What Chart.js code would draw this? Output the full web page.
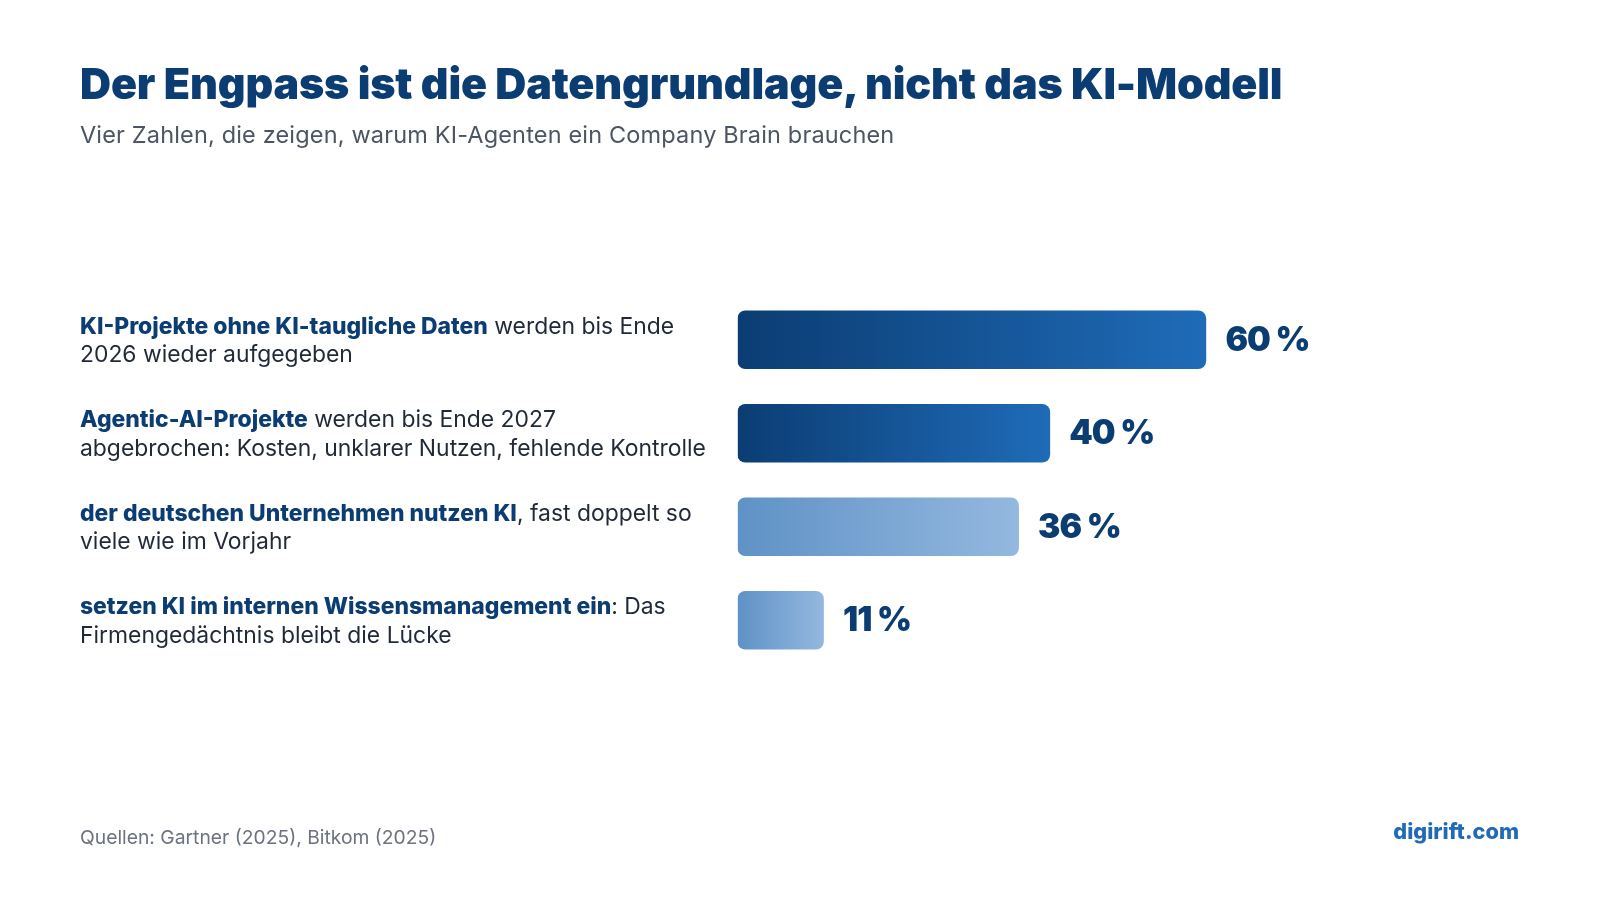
<!DOCTYPE html>
<html lang="de">
<head>
<meta charset="utf-8">
<title>Der Engpass ist die Datengrundlage</title>
<script src="https://cdn.jsdelivr.net/npm/chart.js@4"></script>
<style>
  html, body { margin: 0; background: #fff; }
  body { width: 1600px; height: 900px; position: relative; overflow: hidden; font-family: Inter, sans-serif; }
  canvas { position: absolute; left: 0; top: 0; }
  .txt { position: absolute; white-space: nowrap; line-height: 1; }
  #title { left: 80px; top: 62px; font-size: 43px; font-weight: 900; color: #0b3d73; letter-spacing: -0.15px; }
  #subtitle { left: 80px; top: 123px; font-size: 23.5px; color: #4b5563; letter-spacing: 0.16px; }
  #source { left: 80px; top: 828px; font-size: 19.3px; color: #6b7280; }
  #brand { right: 81px; top: 821px; font-size: 21.7px; font-weight: 800; color: #1f6bb8; }
</style>
</head>
<body>
<canvas id="barChart" width="1600" height="900"></canvas>
<div class="txt" id="title">Der Engpass ist die Datengrundlage, nicht das KI-Modell</div>
<div class="txt" id="subtitle">Vier Zahlen, die zeigen, warum KI-Agenten ein Company Brain brauchen</div>
<div class="txt" id="source">Quellen: Gartner (2025), Bitkom (2025)</div>
<div class="txt" id="brand">digirift.com</div>
<script>
const categories = ['KI-Projekte', 'Agentic-AI', 'Deutsche Unternehmen', 'Wissensmanagement'];
const values = [60, 40, 36, 11];
const boldText = ['KI-Projekte ohne KI-taugliche Daten', 'Agentic-AI-Projekte', 'der deutschen Unternehmen nutzen KI', 'setzen KI im internen Wissensmanagement ein'];
const restText = [' werden bis Ende', ' werden bis Ende 2027', ', fast doppelt so', ': Das'];
const secondLine = ['2026 wieder aufgegeben', 'abgebrochen: Kosten, unklarer Nutzen, fehlende Kontrolle', 'viele wie im Vorjahr', 'Firmengedächtnis bleibt die Lücke'];
const gradStart = ['#0b3d73', '#0b3d73', '#5f92c6', '#5f92c6'];
const gradEnd = ['#1f6bb8', '#1f6bb8', '#94b8df', '#94b8df'];

// labels left of the bars and the big percentages right of them
const barText = {
  id: 'barText',
  afterDatasetsDraw(chart) {
    const { ctx, scales: { x, y } } = chart;
    ctx.save();
    ctx.textBaseline = 'middle';
    categories.forEach((c, i) => {
      const cy = y.getPixelForValue(i);
      ctx.textAlign = 'left';
      ctx.font = '800 22.9px Inter';
      ctx.fillStyle = '#0b3d73';
      ctx.fillText(boldText[i], 80, cy - 13);
      const w = ctx.measureText(boldText[i]).width;
      ctx.font = '400 22.9px Inter';
      ctx.fillStyle = '#1f2937';
      ctx.fillText(restText[i], 80 + w, cy - 13);
      ctx.fillText(secondLine[i], 80, cy + 15.5);
      ctx.font = '900 33.5px Inter';
      ctx.letterSpacing = '-1px';
      ctx.fillStyle = '#0b3d73';
      ctx.fillText(values[i] + ' %', x.getPixelForValue(values[i]) + 19.5, cy + 1);
      ctx.letterSpacing = '0px';
    });
    ctx.restore();
  }
};

new Chart(document.getElementById('barChart').getContext('2d'), {
  type: 'bar',
  data: {
    labels: categories,
    datasets: [{
      data: values,
      backgroundColor(c) {
        // scales have no size yet on the first resolve
        if (!c.chart.chartArea) return gradStart[c.dataIndex];
        const x = c.chart.scales.x;
        const g = c.chart.ctx.createLinearGradient(x.getPixelForValue(0), 0, x.getPixelForValue(values[c.dataIndex]), 0);
        g.addColorStop(0, gradStart[c.dataIndex]);
        g.addColorStop(1, gradEnd[c.dataIndex]);
        return g;
      },
      borderRadius: 8,
      borderSkipped: false,
      barThickness: 58,
      categoryPercentage: 1
    }]
  },
  options: {
    indexAxis: 'y',
    responsive: false,
    animation: false,
    layout: { padding: { left: 737.7, right: 82, top: 293, bottom: 233 } },
    plugins: { legend: { display: false }, tooltip: { enabled: false } },
    scales: {
      x: { display: false, min: 0, max: 100 },
      y: { display: false }
    }
  },
  plugins: [barText]
});
</script>
</body>
</html>
